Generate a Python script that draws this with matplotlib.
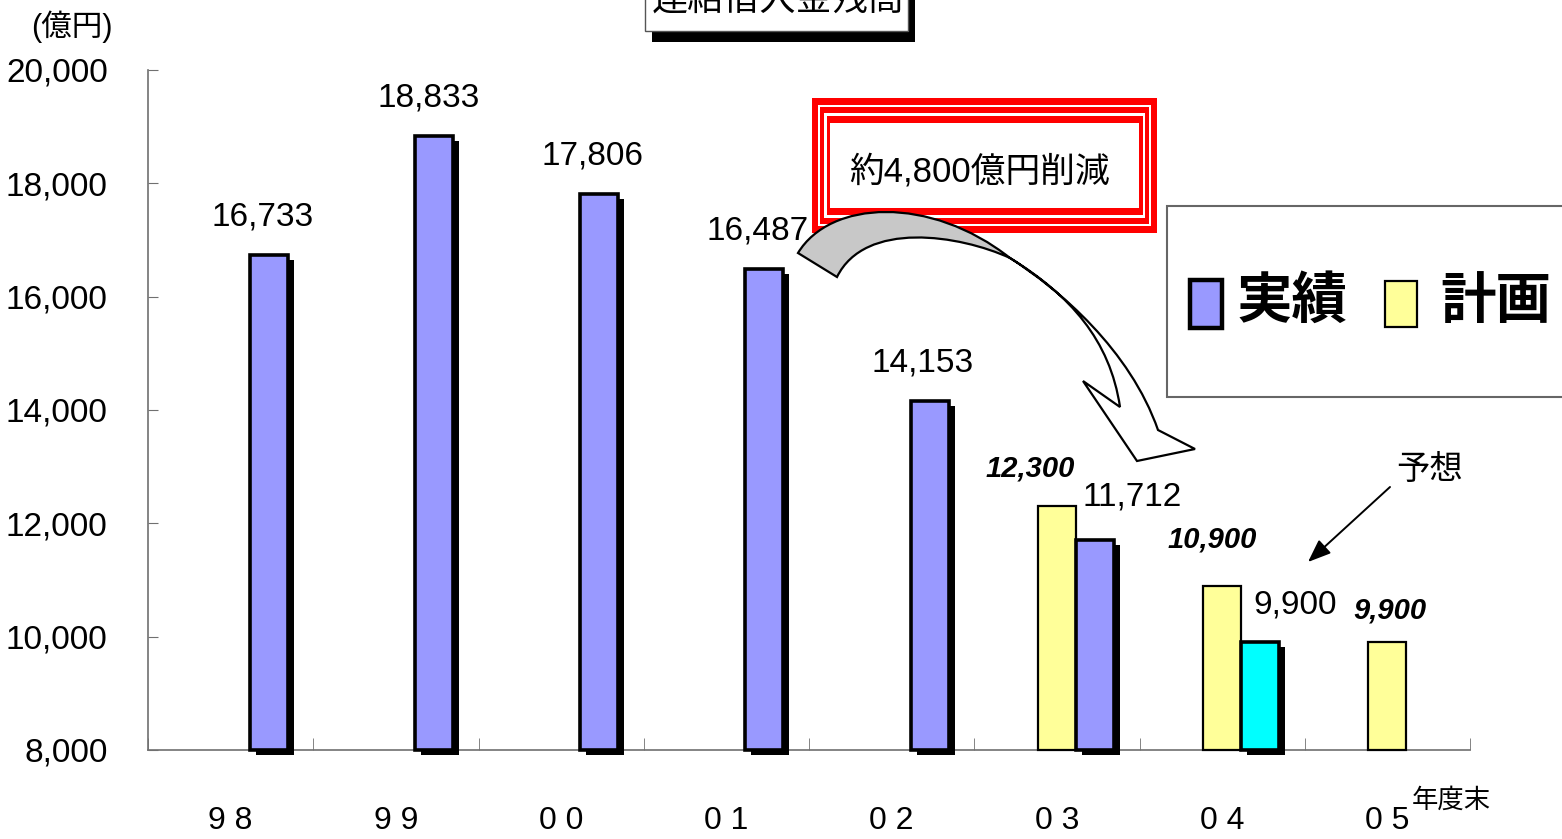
import numpy as np
import matplotlib
matplotlib.use("Agg")
import matplotlib.pyplot as plt
from matplotlib.transforms import Affine2D
from matplotlib.patches import Rectangle, PathPatch
from matplotlib.path import Path
import matplotlib.patheffects as pe

# ---------------- data ----------------
years = ['98', '99', '00', '01', '02', '03', '04', '05']
actual = [16733, 18833, 17806, 16487, 14153, 11712, 9900, None]   # 実績 (04 = 予想)
plan = [None, None, None, None, None, 12300, 10900, 9900]          # 計画
yticks = [8000, 10000, 12000, 14000, 16000, 18000, 20000]

# ---------------- style ----------------
W, H = 1562, 839
LAT = ['Liberation Sans', 'Noto Sans CJK JP', 'DejaVu Sans']
CJK = ['Noto Sans CJK JP', 'DejaVu Sans']
C_ACT = '#9999FF'
C_FORE = '#00FFFF'
C_PLAN = '#FFFF99'
act_colors = [C_ACT] * 6 + [C_FORE, C_ACT]
act_lab_off = [(-6, 38), (-5, 38), (-7, 38), (-7, 38), (-7, 38), (37, 43), (35, 37), (0, 38)]
plan_lab_off = [(0, 38)] * 5 + [(-27, 38), (-10, 46), (2, 32)]
BW = 0.23
PX2PT = 72 / 100

fig = plt.figure(figsize=(W / 100, H / 100), dpi=100)
px = Affine2D().scale(1 / W, -1 / H).translate(0, 1) + fig.transFigure

ax = fig.add_axes([148 / W, 1 - 750 / H, (1470 - 148) / W, (750 - 70) / H])
ax.set_xlim(-0.5, 7.5)
ax.set_ylim(8000, 20000)

shadow = [pe.SimplePatchShadow(offset=(6 * PX2PT, -5 * PX2PT), shadow_rgbFace='black', alpha=1.0),
          pe.Normal()]

x = np.arange(len(years))
# plan bars
for i, v in enumerate(plan):
    if v is None:
        continue
    ax.bar(x[i], v - 8000, bottom=8000, width=BW, color=C_PLAN,
           edgecolor='black', linewidth=1.6, clip_on=False, zorder=3)
    dx, dy = plan_lab_off[i]
    ax.annotate(f"{v:,}", xy=(x[i], v), xytext=(dx * PX2PT, dy * PX2PT),
                textcoords='offset points', ha='center', va='center',
                fontsize=21, fontweight='bold', fontstyle='italic', family=LAT)
# actual bars
for i, v in enumerate(actual):
    if v is None:
        continue
    b = ax.bar(x[i] + BW, v - 8000, bottom=8000, width=BW, color=act_colors[i],
               edgecolor='black', linewidth=2.6, clip_on=False, zorder=3)
    for p in b:
        p.set_path_effects(shadow)
    dx, dy = act_lab_off[i]
    ax.annotate(f"{v:,}", xy=(x[i] + BW, v), xytext=(dx * PX2PT, dy * PX2PT),
                textcoords='offset points', ha='center', va='center',
                fontsize=24, family=LAT)

# axes styling
for s in ['top', 'right']:
    ax.spines[s].set_visible(False)
for s in ['left', 'bottom']:
    ax.spines[s].set_color('#707070')
    ax.spines[s].set_linewidth(1.2)
ax.set_yticks(yticks)
ax.set_yticklabels([f"{t:,}" for t in yticks], family=LAT, fontsize=24)
ax.tick_params(axis='y', direction='in', length=7, color='#707070', pad=29)
ax.set_xticks(x)
ax.set_xticklabels([' '.join(y) for y in years], family=LAT, fontsize=23)
ax.tick_params(axis='x', which='major', length=0, pad=40)
ax.set_xticks(np.arange(-0.5, 8, 1), minor=True)
ax.tick_params(axis='x', which='minor', direction='in', length=9, color='#707070')

# unit label and axis note
fig.text(72 / W, 1 - 27 / H, '(億円)', family=LAT, fontsize=22, ha='center', va='center')
fig.text(1451 / W, 1 - 800 / H, '年度末', family=CJK, fontsize=19, ha='center', va='center')

# title box (cut off at the top, as in the original)
fig.add_artist(Rectangle((652, -30), 263, 72, transform=px, facecolor='black', edgecolor='none'))
fig.add_artist(Rectangle((645, -30), 263, 61, transform=px, facecolor='white',
                         edgecolor='#555555', linewidth=1.0))
fig.text(778 / W, 1 - 0 / H, '連結借入金残高', family=CJK, fontsize=26, ha='center', va='center')

# red triple-line box
xs = [0, 6, 8, 12, 14.5, 18]
ys = [0, 7, 9, 15, 18, 25]
cols = ['red', 'white', 'red', 'white', 'red', 'white']
X0, Y0, X1, Y1 = 812, 98, 1157, 233
for dx_, dy_, c in zip(xs, ys, cols):
    fig.add_artist(Rectangle((X0 + dx_, Y0 + dy_), (X1 - X0) - 2 * dx_, (Y1 - Y0) - 2 * dy_,
                             transform=px, facecolor=c, edgecolor='none'))
fig.text(980 / W, 1 - 172 / H, '約4,800億円削減', family=LAT, fontsize=25, ha='center', va='center')

# curved block arrow
M, C4, L, CL = Path.MOVETO, Path.CURVE4, Path.LINETO, Path.CLOSEPOLY
left_v = [(798, 253), (830, 200), (930, 195), (1010, 258),
          (960, 235), (865, 220), (837, 277), (798, 253)]
left_c = [M, C4, C4, C4, C4, C4, C4, CL]
right_v = [(1010, 258), (1060, 290), (1130, 350), (1158, 430), (1195, 449), (1137, 461),
           (1083, 381), (1120, 407), (1110, 340), (1070, 295), (1010, 258), (1010, 258)]
right_c = [M, C4, C4, C4, L, L, L, L, C4, C4, C4, CL]
fig.add_artist(PathPatch(Path(right_v, right_c), transform=px, facecolor='white',
                         edgecolor='black', linewidth=1.6))
fig.add_artist(PathPatch(Path(left_v, left_c), transform=px, facecolor='#C8C8C8',
                         edgecolor='black', linewidth=1.6))

# legend box (extends past the right edge)
fig.add_artist(Rectangle((1167, 206), 450, 191, transform=px, facecolor='white',
                         edgecolor='#666666', linewidth=1.5))
fig.add_artist(Rectangle((1190, 280), 32, 48, transform=px, facecolor=C_ACT,
                         edgecolor='black', linewidth=3.2))
fig.add_artist(Rectangle((1385, 281), 32, 46, transform=px, facecolor=C_PLAN,
                         edgecolor='black', linewidth=1.6))
fig.text(1292 / W, 1 - 302 / H, '実績', family=CJK, fontsize=40, fontweight='bold',
         ha='center', va='center')
fig.text(1496 / W, 1 - 302 / H, '計画', family=CJK, fontsize=40, fontweight='bold',
         fontstyle='italic', ha='center', va='center')

# forecast note
fig.text(1430 / W, 1 - 469 / H, '予想', family=CJK, fontsize=24, ha='center', va='center')
ax.annotate('', xy=(1308, 562), xycoords=px, xytext=(1390, 487), textcoords=px,
            arrowprops=dict(arrowstyle='-|>,head_length=1.4,head_width=0.55', color='black',
                            lw=1.4, shrinkA=0, shrinkB=0))

fig.savefig('out.png', dpi=100)
